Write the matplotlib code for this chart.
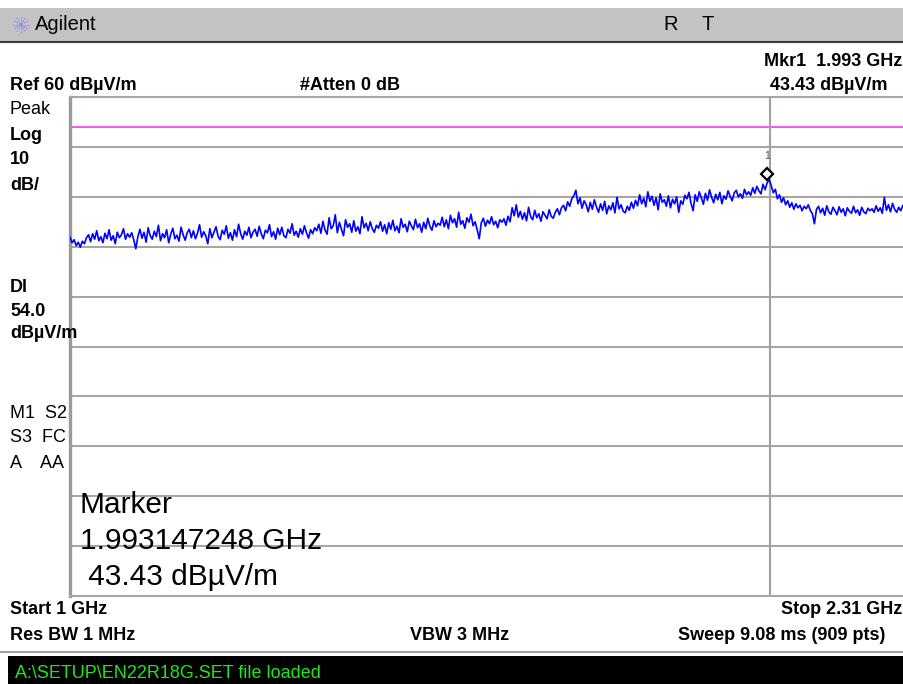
import numpy as np
import matplotlib
matplotlib.use("Agg")
import matplotlib.pyplot as plt
from matplotlib.transforms import offset_copy
from matplotlib.patches import Rectangle

# ---------------- data ----------------
start_ghz = 1.0
stop_ghz = 2.31
ref_level = 60.0          # dBuV/m
scale_db = 10.0           # dB/div
display_line = 54.0       # dBuV/m
marker_freq_ghz = 1.993147248
marker_level = 43.43

trace_dbuv = [
    31.9, 30.8, 31.4, 30.2, 30.9, 29.9, 31.1, 30.6, 31.8, 32.4, 31.0, 32.6, 31.5, 33.2, 31.2, 32.0, 30.8, 32.7, 31.6, 33.4, 31.3, 32.2, 30.6, 32.9, 31.8, 32.4, 33.6, 31.5, 32.6, 31.9,
    32.8, 31.4, 29.6, 32.0, 33.5, 31.7, 32.9, 30.9, 33.8, 32.2, 31.5, 33.1, 32.0, 34.3, 31.2, 32.6, 31.8, 33.4, 30.8, 32.5, 33.7, 31.6, 32.3, 31.1, 33.9, 32.4, 31.3, 32.8, 33.5, 31.8,
    33.2, 31.6, 32.7, 34.4, 31.9, 33.0, 32.2, 30.6, 33.6, 31.8, 32.9, 34.0, 32.1, 31.4, 33.3, 32.5, 34.2, 31.7, 32.8, 31.3, 33.4, 32.0, 34.5, 32.6, 31.5, 33.1, 32.3, 33.9, 31.8, 32.9,
    33.5, 32.1, 34.1, 32.6, 31.6, 33.3, 32.8, 34.4, 32.0, 33.0, 31.5, 33.7, 32.4, 33.9, 32.2, 31.8, 33.5, 32.7, 34.6, 32.3, 33.1, 31.9, 33.6, 32.5, 34.2, 32.8, 31.7, 33.4, 32.6, 33.8,
    33.2, 34.5, 32.7, 35.1, 33.4, 32.5, 35.8, 33.6, 34.2, 36.4, 32.8, 34.9, 33.5, 32.2, 35.4, 33.9, 34.6, 32.9, 35.2, 33.1, 34.0, 32.6, 36.0, 33.8, 34.7, 33.2, 35.0, 33.6, 32.9, 34.3,
    33.7, 35.0, 33.1, 34.4, 32.6, 34.8, 33.5, 35.3, 33.2, 34.1, 32.8, 35.6, 33.9, 34.5, 33.0, 35.1, 34.2, 33.4, 35.5, 33.8, 34.6, 32.9, 34.9, 33.6, 35.7, 34.1, 33.3, 35.2, 34.0, 34.7,
    34.3, 35.9, 34.0, 35.4, 33.6, 36.3, 34.8, 35.6, 33.9, 36.9, 34.5, 35.2, 33.7, 35.8, 34.9, 36.5, 34.2, 35.0, 33.4, 31.6, 34.8, 35.7, 34.1, 35.3, 34.6, 36.0, 34.4, 35.1, 33.8, 35.4,
    34.9, 35.6, 34.3, 36.1, 35.0, 37.8, 36.2, 38.4, 35.9, 37.1, 35.5, 36.8, 35.2, 37.9, 36.0, 35.4, 37.3, 35.8, 36.6, 35.1, 37.0, 36.3, 35.6, 37.4, 36.1, 35.7, 36.9, 37.6, 36.4, 37.8,
    38.3, 37.2, 39.0, 38.1, 39.6, 40.2, 41.3, 38.6, 39.8, 37.7, 39.2, 38.4, 37.0, 38.9, 37.5, 39.4, 38.0, 36.9, 38.6, 37.3, 39.1, 36.6, 38.2, 37.4, 38.8, 36.8, 39.9, 37.6, 38.4, 37.1,
    36.8, 38.1, 37.3, 38.9, 37.7, 39.3, 38.2, 40.4, 38.6, 39.7, 38.0, 41.0, 39.1, 40.1, 38.3, 39.8, 37.4, 40.6, 38.9, 39.4, 38.1, 40.2, 37.8, 39.5, 38.6, 40.0, 36.9, 39.2, 38.5, 40.3,
    39.6, 40.9, 38.7, 37.2, 40.4, 39.1, 41.0, 39.8, 38.5, 40.7, 39.3, 41.4, 39.9, 38.8, 40.5, 39.4, 40.9, 38.6, 40.2, 39.5, 41.2, 40.1, 39.2, 40.8, 41.3, 40.0, 40.6, 39.7, 41.5, 40.4,
    41.0, 40.3, 41.8, 40.7, 42.1, 41.2, 40.6, 42.5, 41.4, 42.8, 43.43, 42.2, 40.8, 41.5, 39.6, 40.4, 38.9, 39.8, 38.4, 39.2, 37.9, 38.8, 37.5, 38.6, 37.8, 38.3, 37.2, 38.1, 37.6, 38.4,
    37.3, 36.6, 34.6, 37.5, 38.1, 36.8, 37.7, 36.3, 38.2, 37.0, 36.5, 37.9, 37.2, 36.4, 38.0, 36.9, 37.6, 36.2, 37.8, 37.1, 36.7, 38.1, 36.8, 37.4, 36.3, 37.9, 37.0, 36.6, 37.7, 37.2,
    37.6, 36.9, 38.2, 37.1, 37.8, 36.7, 39.9, 37.3, 38.4, 37.0, 38.7, 37.5, 36.9, 37.9, 37.2, 38.3, 37.4, 36.8, 37.7, 38.1, 37.0, 37.6, 38.2, 36.9, 37.5, 38.0, 37.3, 37.7, 36.8, 37.9,
    37.4, 38.0, 37.1, 37.8, 37.3, 38.2, 36.9, 37.6, 37.9, 37.2, 37.7, 38.1, 37.0, 37.5, 37.8, 37.3, 38.0, 37.4, 37.6, 37.2, 37.9, 37.1, 37.6, 38.0, 37.3, 37.7, 37.0, 37.5, 37.8, 37.4,
]

# ---------------- texts ----------------
title_brand = "Agilent"
header_left = "Ref 60 dBµV/m"
header_mid = "#Atten 0 dB"
header_mkr = "Mkr1  1.993 GHz"
header_mkr_val = "43.43 dBµV/m"
left_labels = [("Peak", "normal"), ("Log", "bold"), ("10", "bold"), ("dB/", "bold"),
               ("Dl", "bold"), ("54.0", "bold"), ("dBµV/m", "bold"),
               ("M1  S2", "normal"), ("S3  FC", "normal"), ("A    AA", "normal")]
left_label_y = [109, 135, 160, 185, 288, 311, 334, 414, 438, 463]
marker_box = ["Marker", "1.993147248 GHz", " 43.43 dBµV/m"]
footer_start = "Start 1 GHz"
footer_stop = "Stop 2.31 GHz"
footer_rbw = "Res BW 1 MHz"
footer_vbw = "VBW 3 MHz"
footer_sweep = "Sweep 9.08 ms (909 pts)"
status_msg = "A:\\SETUP\\EN22R18G.SET file loaded"

# ---------------- figure ----------------
W, H = 904, 684
fig = plt.figure(figsize=(W / 100, H / 100), dpi=100)
fig.patch.set_facecolor("white")
FAM = ["Liberation Sans", "DejaVu Sans"]


def fx(x):
    return x / W


def fy(y):
    return 1 - y / H


def txt(x, y, s, size=13, weight="normal", ha="left", color="black", **kw):
    fig.text(fx(x), fy(y), s, fontsize=size, fontweight=weight, ha=ha, va="center",
             color=color, family=FAM, zorder=10, **kw)


# background decorations in pixel coordinates
bg = fig.add_axes([0, 0, 1, 1], zorder=-1)
bg.set_xlim(0, W)
bg.set_ylim(H, 0)
bg.axis("off")
bg.add_patch(Rectangle((0, 8), W, 33, facecolor="#c3c3c3", edgecolor="none"))
bg.plot([0, W], [42, 42], color="#3a3a3a", lw=1.5)
bg.plot([0, W], [652, 652], color="#a0a0a0", lw=1.5)
bg.add_patch(Rectangle((8, 656), W - 8, 30, facecolor="black", edgecolor="none"))
# Agilent spark logo
cx, cy = 21, 25
for ang in range(0, 180, 30):
    a = np.deg2rad(ang)
    bg.plot([cx - 8 * np.cos(a), cx + 8 * np.cos(a)], [cy - 8 * np.sin(a), cy + 8 * np.sin(a)],
            color="#8c8cf0", lw=1.0, ls=(0, (1, 1)))

# graticule axes
L, T, B, R = 70, 97, 596, 904
ax = fig.add_axes([fx(L), fy(B), (R - L) / W, (B - T) / H])
ax.set_facecolor("white")
x_right = start_ghz + (R - L) / (770 - L) * (marker_freq_ghz - start_ghz)
ax.set_xlim(start_ghz, x_right)
bottom_level = ref_level - 10 * scale_db
ax.set_ylim(bottom_level, ref_level)
ax.set_yticks(np.arange(bottom_level, ref_level + 1, scale_db))
ax.set_xticks([])
ax.tick_params(left=False, labelleft=False)
ax.grid(axis="y", color="#a6a6a6", lw=1.5)
for side in ["top", "bottom"]:
    ax.spines[side].set_color("#a6a6a6")
    ax.spines[side].set_linewidth(1.5)
ax.spines["left"].set_color("#9a9a9a")
ax.spines["left"].set_linewidth(2.4)
ax.spines["right"].set_visible(False)

freqs = np.linspace(start_ghz, stop_ghz, len(trace_dbuv))
ax.axhline(display_line, color="#f23cf2", lw=1.2, zorder=2)
ax.axvline(marker_freq_ghz, color="#a0a0a0", lw=1.5, zorder=2)
ax.plot(freqs, trace_dbuv, color="#0000ff", lw=1.2, zorder=3)

tr = offset_copy(ax.transData, fig=fig, x=-3, y=6, units="dots")
ax.plot([marker_freq_ghz], [marker_level], marker="D", ms=6, mfc="white", mec="black",
        mew=1.6, transform=tr, zorder=5, clip_on=False)
tr2 = offset_copy(ax.transData, fig=fig, x=-3, y=24, units="dots")
ax.text(marker_freq_ghz, marker_level, "1", transform=tr2, fontsize=7.5, ha="center",
        va="center", color="#555555", family=FAM, zorder=5)

# ---------------- texts ----------------
txt(35, 25, title_brand, size=14.5)
txt(663, 25, "R", size=14.5)
txt(702, 25, "T", size=14.5)
txt(902, 62, header_mkr, weight="bold", ha="right")
txt(10, 86, header_left, weight="bold")
txt(300, 86, header_mid, weight="bold")
txt(888, 86, header_mkr_val, weight="bold", ha="right")
for (s, w), y in zip(left_labels, left_label_y):
    txt(10, y, s, weight=w)
for s, y in zip(marker_box, [505, 541, 577]):
    txt(80, y, s, size=21.5)
txt(10, 610, footer_start, weight="bold")
txt(902, 610, footer_stop, weight="bold", ha="right")
txt(10, 636, footer_rbw, weight="bold")
txt(410, 636, footer_vbw, weight="bold")
txt(885, 636, footer_sweep, weight="bold", ha="right")
txt(15, 673, status_msg, size=13, color="#1ee61e")

fig.savefig("out.png", dpi=100, facecolor="white")
